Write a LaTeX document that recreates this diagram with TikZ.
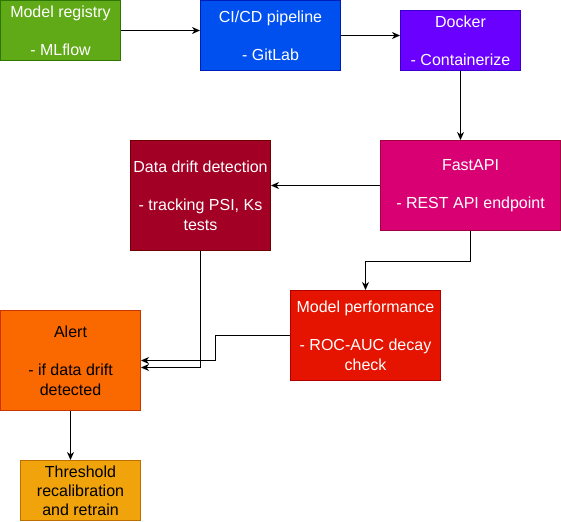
\documentclass[tikz,border=0pt]{standalone}
\usepackage{fontspec}
\setmainfont{Liberation Sans}
\usetikzlibrary{arrows.meta}
\definecolor{regF}{HTML}{60A917}\definecolor{regS}{HTML}{2D7600}
\definecolor{ciF}{HTML}{0050EF}\definecolor{ciS}{HTML}{001DBC}
\definecolor{dkF}{HTML}{6A00FF}\definecolor{dkS}{HTML}{3700CC}
\definecolor{faF}{HTML}{D80073}\definecolor{faS}{HTML}{A50040}
\definecolor{drF}{HTML}{A20025}\definecolor{drS}{HTML}{6F0000}
\definecolor{peF}{HTML}{E51400}\definecolor{peS}{HTML}{B20000}
\definecolor{alF}{HTML}{FA6800}\definecolor{alS}{HTML}{C73500}
\definecolor{thF}{HTML}{F0A30A}\definecolor{thS}{HTML}{BD7000}
\tikzset{
  box/.style={draw, line width=1pt, align=center, inner sep=0pt,
    font=\fontsize{16}{19.2}\selectfont, text=white},
  conn/.style={draw, line width=1pt, -{Stealth[length=8pt,width=7pt,inset=2.5pt]}},
}
\begin{document}
\begin{tikzpicture}[x=1pt,y=-1pt]
\useasboundingbox (0,0) rectangle (561,521);
\node[box, fill=regF, draw=regS, minimum width=120pt, minimum height=60pt] (reg) at (60.5,30.5) {Model registry\\\mbox{}\\- MLflow};
\node[box, fill=ciF, draw=ciS, minimum width=140pt, minimum height=70pt] (cicd) at (270.5,35.5) {CI/CD pipeline\\\mbox{}\\- GitLab};
\node[box, fill=dkF, draw=dkS, minimum width=120pt, minimum height=60pt] (docker) at (460.5,40.5) {Docker\\\mbox{}\\- Containerize};
\node[box, fill=faF, draw=faS, minimum width=180pt, minimum height=90pt] (fast) at (470.5,185.5) {FastAPI\\\mbox{}\\- REST API endpoint};
\node[box, fill=drF, draw=drS, minimum width=140pt, minimum height=110pt] (drift) at (200.5,195.5) {Data drift detection\\\mbox{}\\- tracking PSI, Ks\\tests};
\node[box, fill=peF, draw=peS, minimum width=150pt, minimum height=90pt] (perf) at (365.5,335.5) {Model performance\\\mbox{}\\- ROC-AUC decay\\check};
\node[box, fill=alF, draw=alS, text=black, minimum width=140pt, minimum height=100pt] (alert) at (70.5,360.5) {Alert\\\mbox{}\\- if data drift\\detected};
\node[box, fill=thF, draw=thS, text=black, minimum width=120pt, minimum height=60pt] (thr) at (80.5,490.5) {Threshold\\recalibration\\and retrain};

\draw[conn] (reg.east) -- (reg.east -| cicd.west);
\draw[conn] (cicd.east) -- (cicd.east -| docker.west);
\draw[conn] (docker.south) -- (docker.south |- fast.north);
\draw[conn] (fast.west) -- (fast.west -| drift.east);
\draw[conn] (fast.south) -- ++(0,30) -| (perf.north);
\draw[conn] (drift.south) |- ([yshift=-7pt]alert.east);
\draw[conn] (perf.west) -- ++(-75,0) |- (alert.east);
\draw[conn] (alert.south) -- (alert.south |- thr.north);
\end{tikzpicture}
\end{document}
